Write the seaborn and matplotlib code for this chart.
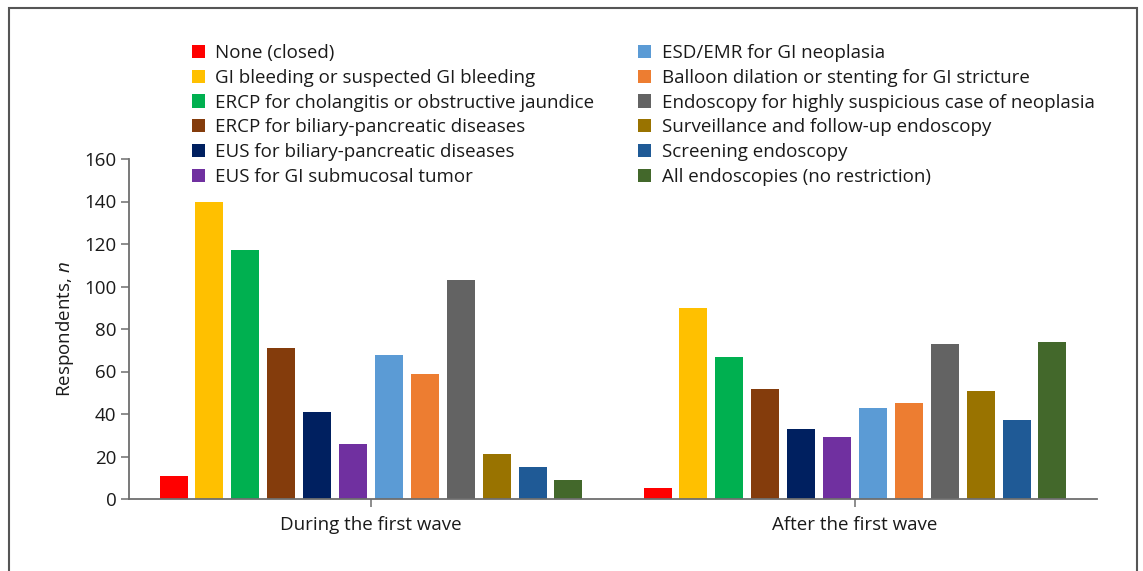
import matplotlib
matplotlib.use("Agg")
import matplotlib.pyplot as plt
from matplotlib.patches import Rectangle
import seaborn as sns
import pandas as pd

# ---- data ----
periods = ["During the first wave", "After the first wave"]
categories = [
    "None (closed)",
    "GI bleeding or suspected GI bleeding",
    "ERCP for cholangitis or obstructive jaundice",
    "ERCP for biliary-pancreatic diseases",
    "EUS for biliary-pancreatic diseases",
    "EUS for GI submucosal tumor",
    "ESD/EMR for GI neoplasia",
    "Balloon dilation or stenting for GI stricture",
    "Endoscopy for highly suspicious case of neoplasia",
    "Surveillance and follow-up endoscopy",
    "Screening endoscopy",
    "All endoscopies (no restriction)",
]
during_values = [11, 140, 117, 71, 41, 26, 68, 59, 103, 21, 15, 9]
after_values = [5, 90, 67, 52, 33, 29, 43, 45, 73, 51, 37, 74]
colors = ["#FF0000", "#FFC000", "#00B050", "#843C0C", "#002060", "#7030A0",
          "#5B9BD5", "#ED7D31", "#636363", "#997300", "#1F5A96", "#43682B"]
y_ticks = [0, 20, 40, 60, 80, 100, 120, 140, 160]

rows = []
for c, d, a in zip(categories, during_values, after_values):
    rows.append({"period": periods[0], "category": c, "n": d})
    rows.append({"period": periods[1], "category": c, "n": a})
df = pd.DataFrame(rows)

sns.set_theme(style="white")
plt.rcParams["font.family"] = ["Open Sans", "DejaVu Sans"]
plt.rcParams["mathtext.fontset"] = "custom"
plt.rcParams["mathtext.it"] = "Open Sans:italic"
plt.rcParams["mathtext.rm"] = "Open Sans"

FS = 13.5
W, H = 1143, 571
fig = plt.figure(figsize=(W / 100, H / 100), dpi=100)
ax = fig.add_axes([129 / W, 1 - 499 / H, (1097 - 129) / W, (499 - 159) / H])

sns.barplot(data=df, x="period", y="n", hue="category", order=periods,
            hue_order=categories, palette=colors, width=0.89, gap=0.22,
            saturation=1, edgecolor="none", linewidth=0, ax=ax, legend=True)

ax.set_xlim(-0.5, 1.5)
ax.set_ylim(0, 160)
ax.set_yticks(y_ticks)
ax.set_xlabel("")
ax.set_ylabel("Respondents, $\\it{n}$", fontsize=FS, color="#1a1a1a", labelpad=6)

for s in ["top", "right"]:
    ax.spines[s].set_visible(False)
for s in ["left", "bottom"]:
    ax.spines[s].set_color("#6e6e6e")
    ax.spines[s].set_linewidth(1.3)

ax.tick_params(axis="y", which="both", left=True, length=6, width=1.1,
               color="#6e6e6e", labelsize=FS, labelcolor="#1a1a1a", pad=3)
ax.tick_params(axis="x", which="both", bottom=True, length=6, width=1.1,
               color="#6e6e6e", labelsize=FS, labelcolor="#1a1a1a", pad=6)

handles, labels = ax.get_legend_handles_labels()
ax.legend_.remove()
fig.legend(handles, labels, ncol=2, loc="upper left",
           bbox_to_anchor=(192 / W, 1 - 44 / H), frameon=False,
           fontsize=FS, handlelength=0.7, handleheight=0.7,
           handletextpad=0.55, columnspacing=2.32, labelspacing=0.36,
           borderaxespad=0, borderpad=0, labelcolor="#1a1a1a")

fig.add_artist(Rectangle((9 / W, -0.02), (1137 - 9) / W, 1.02 - 8 / H,
                         transform=fig.transFigure, fill=False,
                         edgecolor="#555555", linewidth=1.5))

fig.savefig("out.png", dpi=100)
